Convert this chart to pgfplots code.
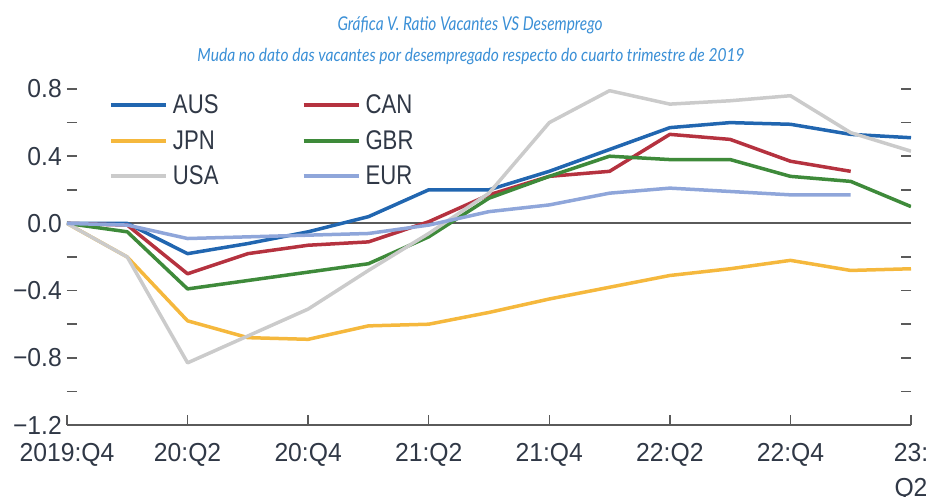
\documentclass[border=0pt]{standalone}
\usepackage{graphicx}
\usepackage{fontspec}
\usepackage{pgfplots}
\pgfplotsset{compat=1.18}
\newfontfamily\tickfont{Liberation Sans}[FakeStretch=0.95]
\newfontfamily\legfont{Liberation Sans}[FakeStretch=0.82]
\newfontfamily\titlefont{Lato}
\definecolor{cAUS}{HTML}{2166B0}
\definecolor{cCAN}{HTML}{B5323F}
\definecolor{cJPN}{HTML}{F5B83D}
\definecolor{cGBR}{HTML}{3E8A3A}
\definecolor{cUSA}{HTML}{CBCBCB}
\definecolor{cEUR}{HTML}{8FA6DA}
\definecolor{axisgray}{HTML}{5A5A5A}
\definecolor{labelgray}{HTML}{303846}
\definecolor{titleblue}{HTML}{3A8FD6}
\begin{document}
\begin{tikzpicture}
\begin{axis}[
  scale only axis, width=844pt, height=336pt,
  xmin=0, xmax=14, ymin=-1.2, ymax=0.8,
  axis x line*=bottom, axis y line*=box,
  y axis line style={draw=none},
  x axis line style={draw=axisgray, line width=1.6pt, -},
  xtick={0,2,4,6,8,10,12,14},
  xticklabels={2019:Q4,20:Q2,20:Q4,21:Q2,21:Q4,22:Q2,22:Q4,{23:\\Q2}},
  xticklabel style={align=center, inner sep=0pt, yshift=-18pt},
  ytick={-1.2,-1.0,-0.8,-0.6,-0.4,-0.2,0,0.2,0.4,0.6,0.8},
  yticklabels={−1.2,{},−0.8,{},−0.4,{},0.0,{},0.4,{},0.8},
  yticklabel style={inner sep=0pt, xshift=-5pt},
  xtick pos=bottom, ytick pos=both, yticklabel pos=left,
  tick align=inside, major tick length=10pt,
  tick style={draw=axisgray, line width=1.5pt},
  ticklabel style={font=\tickfont\fontsize{26}{35}\selectfont, text=labelgray},
  legend columns=2,
  legend cell align=left,
  legend style={draw=none, fill=none, at={(axis description cs:0,1)}, anchor=north west,
    xshift=42pt, yshift=-5pt, inner sep=0pt, outer sep=0pt,
    font=\legfont\fontsize{27}{27}\selectfont, text=labelgray,
    nodes={inner sep=1pt}, row sep=13pt,
    /tikz/column 1/.style={column sep=4pt},
    /tikz/column 2/.style={column sep=82pt},
    /tikz/column 3/.style={column sep=4pt}},
  legend image code/.code={\draw[#1, line width=4pt] (0pt,0pt) -- (55pt,0pt);},
  every axis plot/.append style={line width=3.5pt, line join=round},
]
\addplot[forget plot, axisgray, line width=2pt] coordinates {(0,0) (14,0)};
\addplot[cAUS] coordinates {(0,0)(1,0)(2,-0.18)(3,-0.12)(4,-0.05)(5,0.04)(6,0.20)(7,0.20)(8,0.31)(9,0.44)(10,0.57)(11,0.60)(12,0.59)(13,0.53)(14,0.51)};
\addlegendentry{AUS}
\addplot[cCAN] coordinates {(0,0)(1,-0.01)(2,-0.30)(3,-0.18)(4,-0.13)(5,-0.11)(6,0.01)(7,0.17)(8,0.28)(9,0.31)(10,0.53)(11,0.50)(12,0.37)(13,0.31)};
\addlegendentry{CAN}
\addplot[cJPN] coordinates {(0,0)(1,-0.20)(2,-0.58)(3,-0.68)(4,-0.69)(5,-0.61)(6,-0.60)(7,-0.53)(8,-0.45)(9,-0.38)(10,-0.31)(11,-0.27)(12,-0.22)(13,-0.28)(14,-0.27)};
\addlegendentry{JPN}
\addplot[cGBR] coordinates {(0,0)(1,-0.05)(2,-0.39)(3,-0.34)(4,-0.29)(5,-0.24)(6,-0.08)(7,0.15)(8,0.28)(9,0.40)(10,0.38)(11,0.38)(12,0.28)(13,0.25)(14,0.10)};
\addlegendentry{GBR}
\addplot[cUSA] coordinates {(0,0)(1,-0.20)(2,-0.83)(3,-0.67)(4,-0.51)(5,-0.28)(6,-0.06)(7,0.18)(8,0.60)(9,0.79)(10,0.71)(11,0.73)(12,0.76)(13,0.54)(14,0.43)};
\addlegendentry{USA}
\addplot[cEUR] coordinates {(0,0)(1,-0.01)(2,-0.09)(3,-0.08)(4,-0.07)(5,-0.06)(6,-0.01)(7,0.07)(8,0.11)(9,0.18)(10,0.21)(11,0.19)(12,0.17)(13,0.17)};
\addlegendentry{EUR}
\end{axis}
\node[text=titleblue, inner sep=0pt, anchor=base] at (403pt,394pt) {\resizebox{265pt}{\height}{\titlefont\itshape\fontsize{19}{19}\selectfont Gráfica V. Ratio Vacantes VS Desemprego}};
\node[text=titleblue, inner sep=0pt, anchor=base] at (404pt,363pt) {\resizebox{547pt}{\height}{\titlefont\itshape\fontsize{18}{18}\selectfont Muda no dato das vacantes por desempregado respecto do cuarto trimestre de 2019}};
\pgfresetboundingbox
\path (-67pt,-71pt) rectangle (865pt,425pt);
\end{tikzpicture}
\end{document}
